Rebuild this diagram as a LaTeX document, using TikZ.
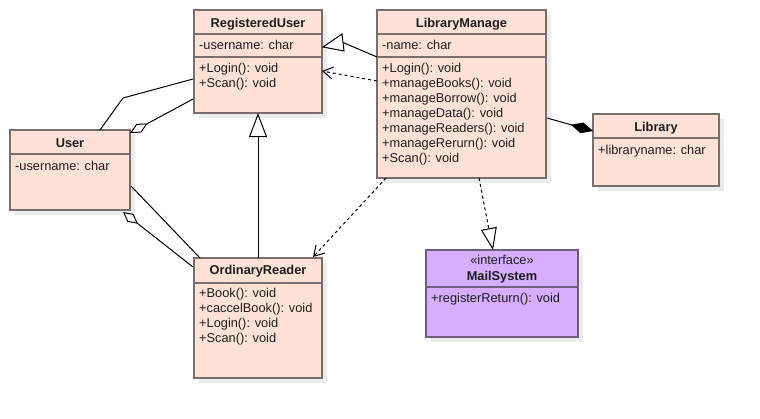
\documentclass[tikz,border=0pt]{standalone}
\usepackage{fontspec}
\setmainfont{Liberation Sans}
\usetikzlibrary{arrows.meta,calc}
\definecolor{fillc}{HTML}{FFE1D6}
\definecolor{strokec}{HTML}{786E6E}
\definecolor{purp}{HTML}{D6ADFF}
\definecolor{purps}{HTML}{6E5E7E}
\definecolor{shad}{HTML}{EBEBEB}
\definecolor{txtc}{HTML}{1E1E1E}
\tikzset{
  cls/.style={draw=strokec, line width=2pt, fill=fillc, anchor=north west, inner sep=0pt, outer sep=0pt},
  shadowbox/.style={fill=shad},
  txt/.style={anchor=base west, inner sep=0pt, text=txtc, font=\fontsize{12.8}{15}\selectfont},
  ttl/.style={anchor=base, inner sep=0pt, text=txtc, font=\fontsize{12.8}{15}\selectfont\bfseries},
  sepline/.style={draw=strokec, line width=2pt},
  conn/.style={draw=black, line width=1pt},
  dsh/.style={conn, dash pattern=on 3pt off 3pt},
  barb/.style={-{Straight Barb[length=10pt,width=12pt]}},
}
\begin{document}
\begin{tikzpicture}[x=1pt,y=-1pt]
\useasboundingbox (0,0) rectangle (760,418);
\fill[white] (0,0) rectangle (760,418);
% shadows
\fill[shadowbox] (199,15) rectangle (327,118);
\fill[shadowbox] (15,135) rectangle (135,215);
\fill[shadowbox] (382,15) rectangle (551,183);
\fill[shadowbox] (598,119) rectangle (724,191);
\fill[shadowbox] (199,263) rectangle (327,383);
\fill[shadowbox] (431,255) rectangle (583,342);
% boxes
\node[cls, minimum width=128pt, minimum height=103pt] (ru) at (194,10) {};
\node[cls, minimum width=120pt, minimum height=80pt] (user) at (10,130) {};
\node[cls, minimum width=169pt, minimum height=168pt] (lm) at (377,10) {};
\node[cls, minimum width=126pt, minimum height=72pt] (lib) at (593,114) {};
\node[cls, minimum width=128pt, minimum height=120pt] (or) at (194,258) {};
\node[cls, fill=purp, draw=purps, minimum width=152pt, minimum height=87pt] (ms) at (426,250) {};
% separators
\draw[sepline] ($(ru.north west)+(0,24)$) -- ($(ru.north east)+(0,24)$);
\draw[sepline] ($(ru.north west)+(0,47)$) -- ($(ru.north east)+(0,47)$);
\draw[sepline] ($(user.north west)+(0,24)$) -- ($(user.north east)+(0,24)$);
\draw[sepline] ($(lm.north west)+(0,24)$) -- ($(lm.north east)+(0,24)$);
\draw[sepline] ($(lm.north west)+(0,47)$) -- ($(lm.north east)+(0,47)$);
\draw[sepline] ($(lib.north west)+(0,24)$) -- ($(lib.north east)+(0,24)$);
\draw[sepline] ($(or.north west)+(0,25)$) -- ($(or.north east)+(0,25)$);
\draw[sepline, draw=purps] ($(ms.north west)+(0,37)$) -- ($(ms.north east)+(0,37)$);
% texts
\node[ttl] (ru-t) at (258,27) {RegisteredUser};
\node[txt] (ru-a) at (199,49) {-username: char};
\node[txt] (ru-m1) at (199,72) {+Login(): void};
\node[txt] (ru-m2) at (199,87) {+Scan(): void};
\node[ttl] (user-t) at (70,147) {User};
\node[txt] (user-a) at (15,170) {-username: char};
\node[ttl] (lm-t) at (461.5,27) {LibraryManage};
\node[txt] (lm-a) at (382,49) {-name: char};
\foreach \t [count=\i] in {+Login(): void,+manageBooks(): void,+manageBorrow(): void,+manageData(): void,+manageReaders(): void,+manageRerurn(): void,+Scan(): void}
  \node[txt] (lm-m\i) at (382,{72+15*(\i-1)}) {\t};
\node[ttl] (lib-t) at (656,131) {Library};
\node[txt] (lib-a) at (598,154) {+libraryname: char};
\node[ttl] (or-t) at (258,274) {OrdinaryReader};
\foreach \t [count=\i] in {+Book(): void,+caccelBook(): void,+Login(): void,+Scan(): void}
  \node[txt] (or-m\i) at (199,{297+15*(\i-1)}) {\t};
\node[ttl, font=\fontsize{12.8}{15}\selectfont] (ms-s) at (502,264) {«interface»};
\node[ttl] (ms-t) at (502,280) {MailSystem};
\node[txt] (ms-m) at (431,302) {+registerReturn(): void};
% connectors
\draw[conn] ($(lm.north west)+(0,47)$) -- ($(ru.north east)+(21,32.5)$);
\draw[conn, fill=white] ($(ru.north east)+(1,37)$) -- ++(19,-13) -- ++(2,17) -- cycle;
\draw[dsh, barb] ($(lm.north west)+(0,71)$) -- ($(ru.north east)+(0,61)$);
\draw[conn] ($(user.north west)+(90,0)$) -- ($(user.north west)+(113,-32)$) -- ($(ru.north west)+(-1,69)$);
\draw[conn, -{Diamond[open,length=20pt,width=10pt]}] ($(ru.north west)+(-1,89)$) -- ($(user.north east)+(0,3)$);
\draw[conn] ($(user.north east)+(1,56)$) -- ($(or.north west)+(6,0)$);
\draw[conn, -{Diamond[open,length=19pt,width=10pt]}] ($(or.north west)+(-1,9)$) -- ($(user.south east)+(-7,2)$);
\draw[conn, -{Triangle[open,length=24pt,width=18pt]}] (or.north) -- (ru.south);
\draw[dsh, barb] ($(lm.south west)+(9,0)$) -- ($(or.north east)+(-9,-1)$);
\draw[dsh, -{Triangle[open,length=22pt,width=16pt]}] ($(lm.south west)+(102,0)$) -- ($(ms.north west)+(67,0)$);
\draw[conn, -{Diamond[length=23pt,width=11pt]}] ($(lm.north east)+(1,108)$) -- ($(lib.north west)+(0,17)$);
\end{tikzpicture}
\end{document}
